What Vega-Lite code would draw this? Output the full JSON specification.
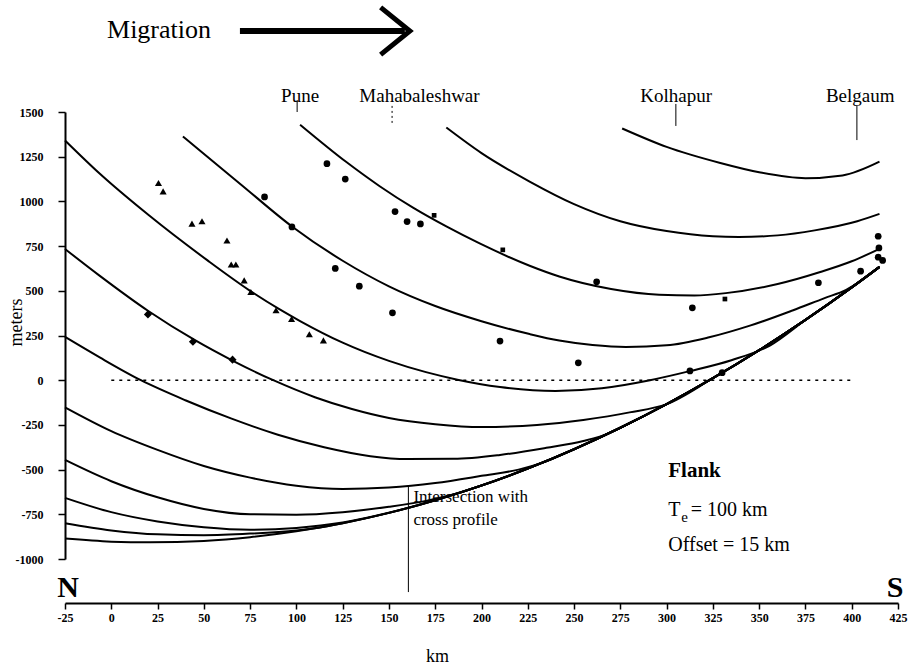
{
  "$schema": "https://vega.github.io/schema/vega-lite/v6.json",
  "width": 833,
  "height": 447,
  "autosize": {"type": "none"},
  "padding": {"left": 65, "top": 112, "right": 21, "bottom": 105},
  "config": {"view": {"stroke": null}, "font": "Liberation Serif"},
  "datasets": {
    "curves": [
      {"c":"L1","km":-25,"m":1341},{"c":"L1","km":-6,"m":1153},{"c":"L1","km":20,"m":925},{"c":"L1","km":52,"m":670},{"c":"L1","km":75,"m":500},{"c":"L1","km":91,"m":396},{"c":"L1","km":102,"m":331},{"c":"L1","km":125,"m":210},{"c":"L1","km":150,"m":108},{"c":"L1","km":170,"m":45},{"c":"L1","km":187,"m":3},{"c":"L1","km":210,"m":-38},{"c":"L1","km":240,"m":-60},{"c":"L1","km":265,"m":-45},{"c":"L1","km":291,"m":0},{"c":"L1","km":313,"m":52},{"c":"L1","km":335,"m":112},{"c":"L1","km":356,"m":195},{"c":"L1","km":375,"m":337},{"c":"L1","km":400,"m":519},{"c":"L1","km":415,"m":634},
      {"c":"L2","km":-25,"m":734},{"c":"L2","km":-6,"m":582},{"c":"L2","km":20,"m":387},{"c":"L2","km":45,"m":225},{"c":"L2","km":66,"m":107},{"c":"L2","km":87.5,"m":0},{"c":"L2","km":110,"m":-95},{"c":"L2","km":130,"m":-161},{"c":"L2","km":150,"m":-211},{"c":"L2","km":175,"m":-246},{"c":"L2","km":200,"m":-262},{"c":"L2","km":230,"m":-250},{"c":"L2","km":255,"m":-222},{"c":"L2","km":280,"m":-180},{"c":"L2","km":300,"m":-134},{"c":"L2","km":325,"m":11},{"c":"L2","km":350,"m":168},{"c":"L2","km":375,"m":337},{"c":"L2","km":400,"m":519},{"c":"L2","km":415,"m":634},
      {"c":"L3","km":-25,"m":242},{"c":"L3","km":-6,"m":126},{"c":"L3","km":16,"m":0},{"c":"L3","km":40,"m":-112},{"c":"L3","km":65,"m":-215},{"c":"L3","km":90,"m":-305},{"c":"L3","km":115,"m":-375},{"c":"L3","km":140,"m":-425},{"c":"L3","km":160,"m":-441},{"c":"L3","km":185,"m":-440},{"c":"L3","km":210,"m":-418},{"c":"L3","km":235,"m":-378},{"c":"L3","km":255,"m":-340},{"c":"L3","km":269,"m":-296},{"c":"L3","km":275,"m":-266},{"c":"L3","km":300,"m":-134},{"c":"L3","km":325,"m":11},{"c":"L3","km":350,"m":168},{"c":"L3","km":375,"m":337},{"c":"L3","km":400,"m":519},{"c":"L3","km":415,"m":634},
      {"c":"L4","km":-25,"m":-152},{"c":"L4","km":0,"m":-285},{"c":"L4","km":25,"m":-390},{"c":"L4","km":50,"m":-480},{"c":"L4","km":75,"m":-545},{"c":"L4","km":100,"m":-590},{"c":"L4","km":125,"m":-608},{"c":"L4","km":150,"m":-600},{"c":"L4","km":175,"m":-575},{"c":"L4","km":200,"m":-535},{"c":"L4","km":220,"m":-500},{"c":"L4","km":233,"m":-461},{"c":"L4","km":250,"m":-386},{"c":"L4","km":275,"m":-266},{"c":"L4","km":300,"m":-134},{"c":"L4","km":325,"m":11},{"c":"L4","km":350,"m":168},{"c":"L4","km":375,"m":337},{"c":"L4","km":400,"m":519},{"c":"L4","km":415,"m":634},
      {"c":"L5","km":-25,"m":-446},{"c":"L5","km":0,"m":-565},{"c":"L5","km":25,"m":-655},{"c":"L5","km":50,"m":-720},{"c":"L5","km":75,"m":-750},{"c":"L5","km":100,"m":-752},{"c":"L5","km":125,"m":-738},{"c":"L5","km":150,"m":-708},{"c":"L5","km":170,"m":-675},{"c":"L5","km":189,"m":-627},{"c":"L5","km":200,"m":-589},{"c":"L5","km":225,"m":-494},{"c":"L5","km":250,"m":-386},{"c":"L5","km":275,"m":-266},{"c":"L5","km":300,"m":-134},{"c":"L5","km":325,"m":11},{"c":"L5","km":350,"m":168},{"c":"L5","km":375,"m":337},{"c":"L5","km":400,"m":519},{"c":"L5","km":415,"m":634},
      {"c":"L6","km":-25,"m":-658},{"c":"L6","km":0,"m":-738},{"c":"L6","km":25,"m":-790},{"c":"L6","km":50,"m":-822},{"c":"L6","km":75,"m":-836},{"c":"L6","km":100,"m":-826},{"c":"L6","km":125,"m":-796},{"c":"L6","km":151,"m":-739},{"c":"L6","km":175,"m":-671},{"c":"L6","km":200,"m":-589},{"c":"L6","km":225,"m":-494},{"c":"L6","km":250,"m":-386},{"c":"L6","km":275,"m":-266},{"c":"L6","km":300,"m":-134},{"c":"L6","km":325,"m":11},{"c":"L6","km":350,"m":168},{"c":"L6","km":375,"m":337},{"c":"L6","km":400,"m":519},{"c":"L6","km":415,"m":634},
      {"c":"L7","km":-25,"m":-800},{"c":"L7","km":0,"m":-840},{"c":"L7","km":25,"m":-862},{"c":"L7","km":50,"m":-867},{"c":"L7","km":75,"m":-858},{"c":"L7","km":100,"m":-840},{"c":"L7","km":112,"m":-825},{"c":"L7","km":125,"m":-800},{"c":"L7","km":150,"m":-742},{"c":"L7","km":175,"m":-671},{"c":"L7","km":200,"m":-589},{"c":"L7","km":225,"m":-494},{"c":"L7","km":250,"m":-386},{"c":"L7","km":275,"m":-266},{"c":"L7","km":300,"m":-134},{"c":"L7","km":325,"m":11},{"c":"L7","km":350,"m":168},{"c":"L7","km":375,"m":337},{"c":"L7","km":400,"m":519},{"c":"L7","km":415,"m":634},
      {"c":"L8","km":-25,"m":-886},{"c":"L8","km":0,"m":-903},{"c":"L8","km":21,"m":-907},{"c":"L8","km":50,"m":-899},{"c":"L8","km":75,"m":-878},{"c":"L8","km":100,"m":-845},{"c":"L8","km":125,"m":-800},{"c":"L8","km":150,"m":-742},{"c":"L8","km":175,"m":-671},{"c":"L8","km":200,"m":-589},{"c":"L8","km":225,"m":-494},{"c":"L8","km":250,"m":-386},{"c":"L8","km":275,"m":-266},{"c":"L8","km":300,"m":-134},{"c":"L8","km":325,"m":11},{"c":"L8","km":350,"m":168},{"c":"L8","km":375,"m":337},{"c":"L8","km":400,"m":519},{"c":"L8","km":415,"m":634},
      {"c":"C2","km":38.7,"m":1363},{"c":"C2","km":48,"m":1283},{"c":"C2","km":70,"m":1095},{"c":"C2","km":97.6,"m":860},{"c":"C2","km":125,"m":668},{"c":"C2","km":150,"m":525},{"c":"C2","km":175,"m":415},{"c":"C2","km":200,"m":330},{"c":"C2","km":226,"m":258},{"c":"C2","km":242,"m":222},{"c":"C2","km":260,"m":197},{"c":"C2","km":278,"m":186},{"c":"C2","km":300,"m":195},{"c":"C2","km":323,"m":240},{"c":"C2","km":345,"m":305},{"c":"C2","km":368,"m":390},{"c":"C2","km":385,"m":458},{"c":"C2","km":397,"m":505},{"c":"C2","km":415,"m":634},
      {"c":"C3","km":102,"m":1429},{"c":"C3","km":127,"m":1220},{"c":"C3","km":145,"m":1085},{"c":"C3","km":163,"m":965},{"c":"C3","km":181,"m":860},{"c":"C3","km":199,"m":765},{"c":"C3","km":226,"m":640},{"c":"C3","km":242,"m":580},{"c":"C3","km":270,"m":510},{"c":"C3","km":296,"m":478},{"c":"C3","km":315,"m":474},{"c":"C3","km":332,"m":487},{"c":"C3","km":360,"m":538},{"c":"C3","km":383,"m":605},{"c":"C3","km":400,"m":665},{"c":"C3","km":415,"m":735},
      {"c":"C4","km":181,"m":1413},{"c":"C4","km":200,"m":1270},{"c":"C4","km":226,"m":1111},{"c":"C4","km":250,"m":985},{"c":"C4","km":275,"m":889},{"c":"C4","km":300,"m":834},{"c":"C4","km":325,"m":805},{"c":"C4","km":339,"m":801},{"c":"C4","km":360,"m":810},{"c":"C4","km":380,"m":838},{"c":"C4","km":403,"m":889},{"c":"C4","km":415,"m":930},
      {"c":"C5","km":276,"m":1408},{"c":"C5","km":300,"m":1305},{"c":"C5","km":329,"m":1215},{"c":"C5","km":350,"m":1163},{"c":"C5","km":375,"m":1130},{"c":"C5","km":395,"m":1145},{"c":"C5","km":415,"m":1222}
    ],
    "triangles": [
      {"km":25.5,"m":1103},{"km":28,"m":1056},{"km":43.6,"m":876},{"km":49,"m":889},{"km":62.5,"m":781},{"km":64.8,"m":647},{"km":67.3,"m":647},{"km":71.8,"m":558},{"km":75.4,"m":493},{"km":89,"m":391},{"km":97.4,"m":342},{"km":107,"m":257},{"km":114.6,"m":223}
    ],
    "diamonds": [
      {"km":19.8,"m":368},{"km":44.1,"m":215},{"km":65.5,"m":115}
    ],
    "circles": [
      {"km":82.8,"m":1025},{"km":97.6,"m":857},{"km":116.5,"m":1211},{"km":126.4,"m":1125},{"km":153.3,"m":943},{"km":159.8,"m":887},{"km":167,"m":874},{"km":121,"m":625},{"km":134,"m":526},{"km":151.9,"m":377},{"km":210,"m":219},{"km":252.3,"m":97},{"km":262.2,"m":550},{"km":313.9,"m":405},{"km":312.6,"m":52},{"km":330,"m":42},{"km":382,"m":545},{"km":404.8,"m":610},{"km":414.3,"m":805},{"km":414.7,"m":740},{"km":414.3,"m":688},{"km":416.7,"m":670}
    ],
    "squares": [
      {"km":174.4,"m":922},{"km":211.5,"m":729},{"km":331.5,"m":454}
    ],
    "zeroline": [{"km":0,"m":0},{"km":400,"m":0}],
    "cities": [
      {"label":"Pune","km":102,"m":1589},
      {"label":"Mahabaleshwar","km":166.5,"m":1589},
      {"label":"Kolhapur","km":305.2,"m":1589},
      {"label":"Belgaum","km":404.6,"m":1589}
    ],
    "cityticks": [
      {"label":"Pune","km":100.4,"m":1567,"m2":1500},
      {"label":"Kolhapur","km":305,"m":1545,"m2":1422},
      {"label":"Belgaum","km":402.8,"m":1534,"m2":1343}
    ],
    "dottedtick": [{"label":"Mahabaleshwar","km":151.7,"m":1534,"m2":1427}],
    "crossline": [{"km":160.5,"m":-597,"m2":-1185}],
    "shaft": [{"km":69.5,"m":1953},{"km":158.6,"m":1953}],
    "head": [{"km":145.5,"m":2085,"o":1},{"km":161.3,"m":1953,"o":2},{"km":145.5,"m":1821,"o":3}],
    "migration": [{"label":"Migration","km":-2.3,"m":1959}],
    "ns": [{"label":"N","km":-23.4,"m":-1162},{"label":"S","km":423.4,"m":-1162}],
    "notes": [
      {"label":"Intersection with","km":163.2,"m":-653},
      {"label":"cross profile","km":163.2,"m":-782}
    ],
    "flank": [{"label":"Flank","km":300.9,"m":-508}],
    "params": [
      {"label":"T","km":300.9,"m":-726},
      {"label":"= 100 km","km":313,"m":-726},
      {"label":"Offset = 15 km","km":300.9,"m":-922}
    ],
    "sub": [{"label":"e","km":307.9,"m":-766}]
  },
  "layer": [
    {
      "data": {"name": "curves"},
      "mark": {"type": "line", "color": "black", "strokeWidth": 2, "interpolate": "monotone"},
      "encoding": {
        "x": {
          "field": "km", "type": "quantitative",
          "scale": {"domain": [-25, 425], "nice": false, "zero": false},
          "axis": {
            "title": "km",
            "values": [-25,0,25,50,75,100,125,150,175,200,225,250,275,300,325,350,375,400,425],
            "offset": 44, "grid": false,
            "domainColor": "black", "domainWidth": 2,
            "tickColor": "black", "tickWidth": 1.5, "tickSize": 6,
            "labelFont": "Liberation Serif", "labelFontSize": 12, "labelFontWeight": "bold", "labelColor": "black",
            "labelPadding": 3, "labelOverlap": false, "labelFlush": false,
            "labelExpr": "datum.value + ''",
            "titleFont": "Liberation Serif", "titleFontSize": 18, "titleFontWeight": "normal", "titleColor": "black",
            "titleX": 372, "titleY": 58, "titleBaseline": "alphabetic"
          }
        },
        "y": {
          "field": "m", "type": "quantitative",
          "scale": {"domain": [-1000, 1500], "nice": false, "zero": false},
          "axis": {
            "title": "meters",
            "values": [-1000,-750,-500,-250,0,250,500,750,1000,1250,1500],
            "grid": false,
            "domainColor": "black", "domainWidth": 2,
            "tickColor": "black", "tickWidth": 1.5, "tickSize": 7,
            "labelFont": "Liberation Serif", "labelFontSize": 12, "labelFontWeight": "bold", "labelColor": "black",
            "labelPadding": 15, "labelOverlap": false, "labelFlush": false,
            "labelExpr": "datum.value + ''",
            "titleFont": "Liberation Serif", "titleFontSize": 18, "titleFontWeight": "normal", "titleColor": "black",
            "titleX": -40, "titleY": 210
          }
        },
        "detail": {"field": "c", "type": "nominal"}
      }
    },
    {
      "data": {"name": "zeroline"},
      "mark": {"type": "line", "color": "black", "strokeWidth": 1.5, "strokeDash": [3, 5]},
      "encoding": {"x": {"field": "km", "type": "quantitative"}, "y": {"field": "m", "type": "quantitative"}}
    },
    {
      "data": {"name": "triangles"},
      "mark": {"type": "point", "shape": "triangle-up", "filled": true, "color": "black", "size": 50, "opacity": 1},
      "encoding": {"x": {"field": "km", "type": "quantitative"}, "y": {"field": "m", "type": "quantitative"}}
    },
    {
      "data": {"name": "diamonds"},
      "mark": {"type": "point", "shape": "diamond", "filled": true, "color": "black", "size": 65, "opacity": 1},
      "encoding": {"x": {"field": "km", "type": "quantitative"}, "y": {"field": "m", "type": "quantitative"}}
    },
    {
      "data": {"name": "circles"},
      "mark": {"type": "point", "shape": "circle", "filled": true, "color": "black", "size": 45, "opacity": 1},
      "encoding": {"x": {"field": "km", "type": "quantitative"}, "y": {"field": "m", "type": "quantitative"}}
    },
    {
      "data": {"name": "squares"},
      "mark": {"type": "point", "shape": "square", "filled": true, "color": "black", "size": 22, "opacity": 1},
      "encoding": {"x": {"field": "km", "type": "quantitative"}, "y": {"field": "m", "type": "quantitative"}}
    },
    {
      "data": {"name": "cities"},
      "mark": {"type": "text", "font": "Liberation Serif", "fontSize": 19, "color": "black", "align": "center", "baseline": "middle"},
      "encoding": {"x": {"field": "km", "type": "quantitative"}, "y": {"field": "m", "type": "quantitative"}, "text": {"field": "label"}}
    },
    {
      "data": {"name": "cityticks"},
      "mark": {"type": "rule", "color": "black", "strokeWidth": 1},
      "encoding": {"x": {"field": "km", "type": "quantitative"}, "y": {"field": "m", "type": "quantitative"}, "y2": {"field": "m2"}}
    },
    {
      "data": {"name": "dottedtick"},
      "mark": {"type": "rule", "color": "black", "strokeWidth": 1, "strokeDash": [2, 3]},
      "encoding": {"x": {"field": "km", "type": "quantitative"}, "y": {"field": "m", "type": "quantitative"}, "y2": {"field": "m2"}}
    },
    {
      "data": {"name": "crossline"},
      "mark": {"type": "rule", "color": "black", "strokeWidth": 1},
      "encoding": {"x": {"field": "km", "type": "quantitative"}, "y": {"field": "m", "type": "quantitative"}, "y2": {"field": "m2"}}
    },
    {
      "data": {"name": "shaft"},
      "mark": {"type": "line", "color": "black", "strokeWidth": 6},
      "encoding": {"x": {"field": "km", "type": "quantitative"}, "y": {"field": "m", "type": "quantitative"}}
    },
    {
      "data": {"name": "head"},
      "mark": {"type": "line", "color": "black", "strokeWidth": 5, "strokeJoin": "miter"},
      "encoding": {"x": {"field": "km", "type": "quantitative"}, "y": {"field": "m", "type": "quantitative"}, "order": {"field": "o", "type": "quantitative"}}
    },
    {
      "data": {"name": "migration"},
      "mark": {"type": "text", "font": "Liberation Serif", "fontSize": 26, "color": "black", "align": "left", "baseline": "middle"},
      "encoding": {"x": {"field": "km", "type": "quantitative"}, "y": {"field": "m", "type": "quantitative"}, "text": {"field": "label"}}
    },
    {
      "data": {"name": "ns"},
      "mark": {"type": "text", "font": "Liberation Serif", "fontSize": 30, "fontWeight": "bold", "color": "black", "align": "center", "baseline": "middle"},
      "encoding": {"x": {"field": "km", "type": "quantitative"}, "y": {"field": "m", "type": "quantitative"}, "text": {"field": "label"}}
    },
    {
      "data": {"name": "notes"},
      "mark": {"type": "text", "font": "Liberation Serif", "fontSize": 17, "color": "black", "align": "left", "baseline": "middle"},
      "encoding": {"x": {"field": "km", "type": "quantitative"}, "y": {"field": "m", "type": "quantitative"}, "text": {"field": "label"}}
    },
    {
      "data": {"name": "flank"},
      "mark": {"type": "text", "font": "Liberation Serif", "fontSize": 21, "fontWeight": "bold", "color": "black", "align": "left", "baseline": "middle"},
      "encoding": {"x": {"field": "km", "type": "quantitative"}, "y": {"field": "m", "type": "quantitative"}, "text": {"field": "label"}}
    },
    {
      "data": {"name": "params"},
      "mark": {"type": "text", "font": "Liberation Serif", "fontSize": 20, "color": "black", "align": "left", "baseline": "middle"},
      "encoding": {"x": {"field": "km", "type": "quantitative"}, "y": {"field": "m", "type": "quantitative"}, "text": {"field": "label"}}
    },
    {
      "data": {"name": "sub"},
      "mark": {"type": "text", "font": "Liberation Serif", "fontSize": 15, "color": "black", "align": "left", "baseline": "middle"},
      "encoding": {"x": {"field": "km", "type": "quantitative"}, "y": {"field": "m", "type": "quantitative"}, "text": {"field": "label"}}
    }
  ]
}
